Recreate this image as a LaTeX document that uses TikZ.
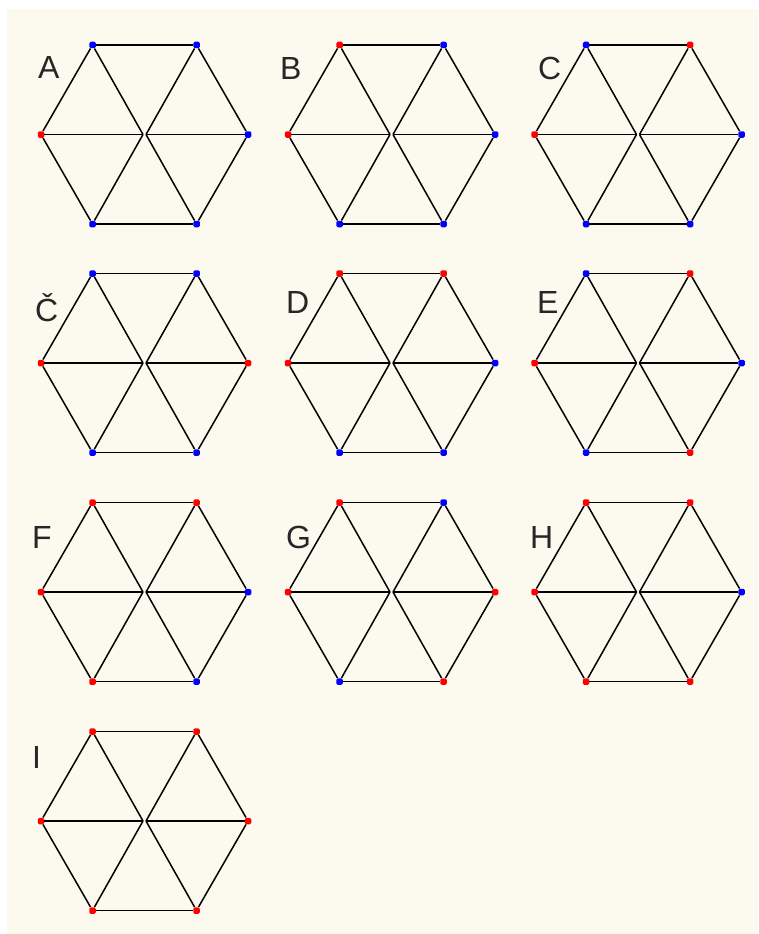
\documentclass[tikz,border=0pt]{standalone}
\usepackage{fontspec}
\setmainfont{Liberation Sans}
\definecolor{cream}{RGB}{252,249,238}
\definecolor{dotred}{RGB}{255,0,0}
\definecolor{dotblue}{RGB}{0,0,255}
\tikzset{
  vdot/.style={rectangle, rounded corners=1.5pt, minimum size=6.5pt, inner sep=0pt, fill=#1, draw=none},
  edge/.style={draw=black, line width=1.5pt},
  lbl/.style={anchor=base west, inner sep=0pt, font=\fontsize{32}{34}\selectfont, text=black!85}
}
\newcommand\hexpanel[9]{%
  \node[vdot=#4] (#1tl) at ({#2-52},{#3-89.5}) {};
  \node[vdot=#5] (#1tr) at ({#2+52},{#3-89.5}) {};
  \node[vdot=#6] (#1l) at ({#2-103.5},{#3}) {};
  \node[vdot=#7] (#1r) at ({#2+103.5},{#3}) {};
  \node[vdot=#8] (#1bl) at ({#2-52},{#3+89.5}) {};
  \node[vdot=#9] (#1br) at ({#2+52},{#3+89.5}) {};
  \coordinate (#1ca) at ({#2-1.5},{#3});
  \coordinate (#1cb) at ({#2+1.5},{#3});
  \draw[edge] (#1tl) -- (#1tr);
  \draw[edge] (#1tr) -- (#1r);
  \draw[edge] (#1r) -- (#1br);
  \draw[edge] (#1br) -- (#1bl);
  \draw[edge] (#1bl) -- (#1l);
  \draw[edge] (#1l) -- (#1tl);
  \draw[edge] (#1tl) -- (#1ca);
  \draw[edge] (#1l) -- (#1ca);
  \draw[edge] (#1bl) -- (#1ca);
  \draw[edge] (#1tr) -- (#1cb);
  \draw[edge] (#1r) -- (#1cb);
  \draw[edge] (#1br) -- (#1cb);
}
\begin{document}
\begin{tikzpicture}[x=1pt,y=-1pt]
  \useasboundingbox (0,0) rectangle (758,934);
  \fill[white] (0,0) rectangle (758,934);
  \fill[cream] (7,9) rectangle (758,934);
  % row 1
  \hexpanel{a}{144.5}{134.5}{dotblue}{dotblue}{dotred}{dotblue}{dotblue}{dotblue}
  \hexpanel{b}{391.5}{134.5}{dotred}{dotblue}{dotred}{dotblue}{dotblue}{dotblue}
  \hexpanel{c}{638}{134.5}{dotblue}{dotred}{dotred}{dotblue}{dotblue}{dotblue}
  % row 2
  \hexpanel{cc}{144.5}{363}{dotblue}{dotblue}{dotred}{dotred}{dotblue}{dotblue}
  \hexpanel{d}{391.5}{363}{dotred}{dotred}{dotred}{dotblue}{dotblue}{dotblue}
  \hexpanel{e}{638}{363}{dotblue}{dotred}{dotred}{dotblue}{dotblue}{dotred}
  % row 3
  \hexpanel{f}{144.5}{592}{dotred}{dotred}{dotred}{dotblue}{dotred}{dotblue}
  \hexpanel{g}{391.5}{592}{dotred}{dotblue}{dotred}{dotred}{dotblue}{dotred}
  \hexpanel{h}{638}{592}{dotred}{dotred}{dotred}{dotblue}{dotred}{dotred}
  % row 4
  \hexpanel{i}{144.5}{821}{dotred}{dotred}{dotred}{dotred}{dotred}{dotred}
  % labels
  \node[lbl] (la) at (38,78) {A};
  \node[lbl] (lb) at (280,79) {B};
  \node[lbl] (lc) at (538,80) {C};
  \node[lbl] (lcc) at (35,321) {Č};
  \node[lbl] (ld) at (286,313) {D};
  \node[lbl] (le) at (537,313) {E};
  \node[lbl] (lf) at (32,548) {F};
  \node[lbl] (lg) at (286,548) {G};
  \node[lbl] (lh) at (530,548) {H};
  \node[lbl] (li) at (32,768) {I};
\end{tikzpicture}
\end{document}
